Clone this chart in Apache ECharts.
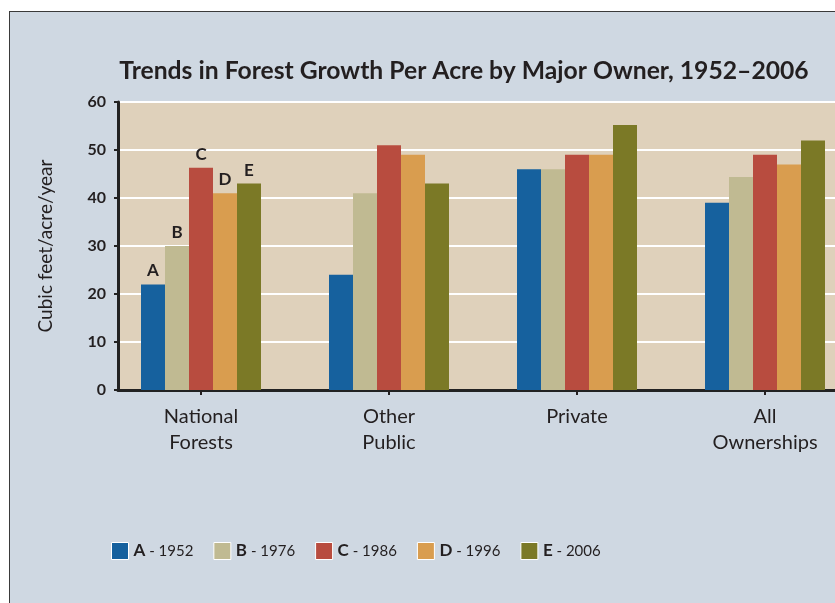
<!DOCTYPE html>
<html>
<head>
<meta charset="utf-8">
<script src="https://cdn.jsdelivr.net/npm/echarts@6/dist/echarts.min.js"></script>
<style>
  body { margin: 0; background: #ffffff; overflow: hidden; }
  #panel { position: absolute; left: 9px; top: 11px; width: 840px; height: 600px;
    background: #cfd8e2; border-left: 1px solid #3a3a3a; border-top: 1px solid #3a3a3a; }
  #chart { position: absolute; left: 0; top: 0; width: 900px; height: 603px; }
</style>
</head>
<body>
<div id="panel"></div>
<div id="chart"></div>
<script>
const owners = ['National\nForests', 'Other\nPublic', 'Private', 'All\nOwnerships'];
const letters = ['A', 'B', 'C', 'D', 'E'];
const years = ['1952', '1976', '1986', '1996', '2006'];
const colors = ['#16619e', '#c0ba92', '#b84c3f', '#d99d4f', '#7b7926'];
// growth per acre, one array per survey year
const y1952 = [22, 24, 46, 39];
const y1976 = [30, 41, 46, 44.4];
const y1986 = [46.3, 51, 49, 49];
const y1996 = [41, 49, 49, 47];
const y2006 = [43, 43, 55.2, 52];
const yTicks = [0, 10, 20, 30, 40, 50, 60];

const chart = echarts.init(document.getElementById('chart'));
const font = 'Lato, "Open Sans", sans-serif';
const ink = '#231f20';

const values = [y1952, y1976, y1986, y1996, y2006];
const series = values.map((vals, i) => ({
  name: letters[i],
  type: 'bar',
  xAxisIndex: 0,
  yAxisIndex: 0,
  barWidth: 24,
  barGap: 0,
  itemStyle: { color: colors[i] },
  data: vals.map((v, j) => j === 0
    ? { value: v, label: { show: true, position: 'top', distance: 5, formatter: letters[i],
        color: ink, fontFamily: font, fontWeight: 'bold', fontSize: 17 } }
    : v)
}));

const option = {
  animation: false,
  title: {
    text: 'Trends in Forest Growth Per Acre by Major Owner, 1952\u20132006',
    left: 459, top: 54, textAlign: 'center',
    textStyle: { fontFamily: font, fontWeight: 'bold', fontSize: 24.7, color: ink }
  },
  legend: {
    left: 106, top: 537,
    itemWidth: 17, itemHeight: 17, itemGap: 20,
    icon: 'rect',
    itemStyle: { borderColor: '#ffffff', borderWidth: 1 },
    data: letters,
    formatter: name => '{b|' + name + '} - ' + years[letters.indexOf(name)],
    textStyle: {
      fontFamily: font, fontSize: 15, color: ink,
      rich: { b: { fontFamily: font, fontWeight: 'bold', fontSize: 17, color: ink } }
    }
  },
  grid: [
    { left: 107, top: 102, width: 752, height: 288 },
    { left: 118, top: 102, width: 760, height: 288, show: true,
      backgroundColor: '#dfd1bb', borderWidth: 0 }
  ],
  xAxis: [
    {
      type: 'category', gridIndex: 0, data: owners,
      axisLine: { show: false },
      axisTick: { show: true, alignWithLabel: true, length: 5, lineStyle: { color: ink, width: 2 } },
      axisLabel: { margin: 14, fontFamily: font, fontSize: 20, lineHeight: 26, color: ink }
    },
    {
      type: 'value', gridIndex: 1, min: 0, max: 1,
      axisLine: { show: true, lineStyle: { color: '#222', width: 3 } },
      axisTick: { show: false }, axisLabel: { show: false }, splitLine: { show: false }
    }
  ],
  yAxis: [
    { type: 'value', gridIndex: 0, min: 0, max: 60, interval: 10, show: false },
    {
      type: 'value', gridIndex: 1, min: 0, max: 60, interval: 10,
      name: 'Cubic feet/acre/year', nameLocation: 'middle', nameGap: 63, nameRotate: 90,
      nameTextStyle: { fontFamily: font, fontSize: 19, color: ink },
      axisLine: { show: true, lineStyle: { color: '#222', width: 3 } },
      axisTick: { show: true, length: 4, lineStyle: { color: '#222', width: 2 } },
      axisLabel: { margin: 12, fontFamily: font, fontWeight: 'bold', fontSize: 16, color: ink,
        formatter: v => yTicks.includes(v) ? String(v) : '' },
      splitLine: { show: true, lineStyle: { color: '#ffffff', width: 2 } }
    }
  ],
  series: series
};
chart.setOption(option);
</script>
</body>
</html>
